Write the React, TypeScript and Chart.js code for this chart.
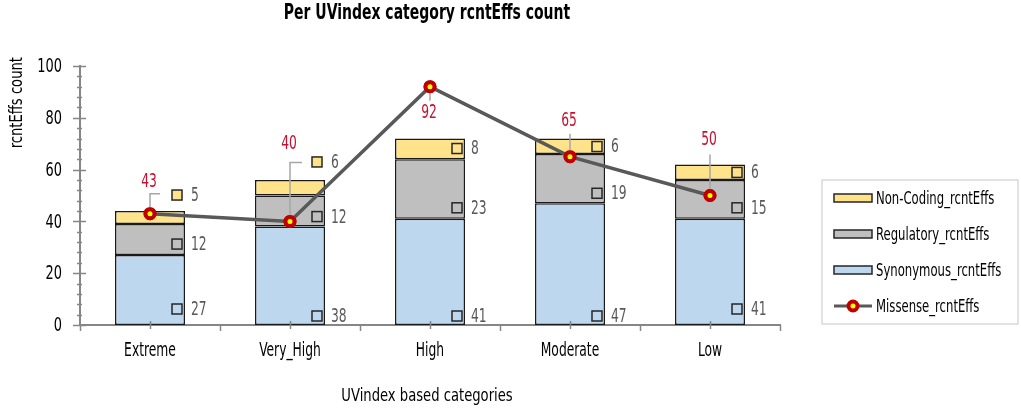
import { useEffect, useRef } from "react";
import { Chart, registerables } from "chart.js";

Chart.register(...registerables);

const categories = ["Extreme", "Very_High", "High", "Moderate", "Low"];
const synonymous = [27, 38, 41, 47, 41];
const regulatory = [12, 12, 23, 19, 15];
const nonCoding = [5, 6, 8, 6, 6];
const missense = [43, 40, 92, 65, 50];
const yTicks = [0, 20, 40, 60, 80, 100];

const FONT = "'DejaVu Sans Condensed', 'DejaVu Sans', sans-serif";
const AXIS_GRAY = "#868686";
const COLORS = {
  syn: "#BDD7EE",
  reg: "#BFBFBF",
  nc: "#FFE38A",
  line: "#595959",
};

// hand-placed label nudges (px), like the original Excel labels
const synDy = [-16, -9, -9, -9, -16]; // from segment base
const regDy = [-11, -10, -11, -10, -11]; // from segment base
const ncDy = [-16, -18, 10, 8, 8]; // from segment top
const missDy = [-32, -77, 26, -36, -55]; // label offset from point
const leaders = [
  [-20, 10],
  [-59, 12],
  [14, 0],
  [-23, 0],
  [-41, 0],
];

// no narrow font installed, so squeeze the text horizontally
type TextOpts = {
  size: number;
  color: string;
  align: CanvasTextAlign;
  sx: number;
  weight?: string;
  rotate?: boolean;
};
function condText(ctx: CanvasRenderingContext2D, text: string, x: number, y: number, o: TextOpts) {
  ctx.save();
  ctx.translate(x, y);
  if (o.rotate) ctx.rotate(-Math.PI / 2);
  ctx.scale(o.sx, 1);
  ctx.font = `${o.weight || "normal"} ${o.size}px ${FONT}`;
  ctx.fillStyle = o.color;
  ctx.textAlign = o.align;
  ctx.textBaseline = "middle";
  ctx.fillText(text, 0, 0);
  ctx.restore();
}

const decorations = {
  id: "decorations",
  afterDraw(chart: any) {
    const { ctx, chartArea } = chart;
    const x = chart.scales.x;
    const y = chart.scales.y;
    const axisY = chartArea.bottom;
    const axisX = chartArea.left;
    const midX = (chartArea.left + chartArea.right) / 2;
    ctx.save();

    // axis tick marks
    ctx.strokeStyle = AXIS_GRAY;
    ctx.lineWidth = 1.5;
    const step = yTicks[1] - yTicks[0];
    const minorStep = step / 5;
    for (let v = yTicks[0]; v <= yTicks[yTicks.length - 1]; v += minorStep) {
      const py = Math.round(y.getPixelForValue(v)) + 0.5;
      const major = v % step === 0;
      ctx.beginPath();
      ctx.moveTo(axisX - (major ? 7 : 3), py);
      ctx.lineTo(axisX + (major ? 6 : 2), py);
      ctx.stroke();
    }
    for (let i = 0; i <= categories.length; i++) {
      const px = Math.round(x.getPixelForValue(i - 0.5)) + 0.5;
      ctx.beginPath();
      ctx.moveTo(px, axisY);
      ctx.lineTo(px, axisY + 6);
      ctx.stroke();
    }
    for (let i = 0; i < categories.length; i++) {
      const px = Math.round(x.getPixelForValue(i)) + 0.5;
      ctx.beginPath();
      ctx.moveTo(px, axisY - 4);
      ctx.lineTo(px, axisY + 4);
      ctx.stroke();
    }

    // tick labels and titles
    yTicks.forEach((v) => {
      condText(ctx, String(v), axisX - 18, y.getPixelForValue(v) + 1, { size: 20, color: "#000", align: "right", sx: 0.72 });
    });
    categories.forEach((c, i) => {
      condText(ctx, c, x.getPixelForValue(i), axisY + 26, { size: 19, color: "#000", align: "center", sx: 0.72 });
    });
    condText(ctx, "Per UVindex category rcntEffs count", midX - 3, chartArea.top - 52, {
      size: 21,
      weight: "bold",
      color: "#000",
      align: "center",
      sx: 0.74,
    });
    condText(ctx, "UVindex based categories", midX - 3, axisY + 72, { size: 17, color: "#000", align: "center", sx: 0.86 });
    condText(ctx, "rcntEffs count", 18, chartArea.top - 9, { size: 17, color: "#000", align: "right", sx: 0.86, rotate: true });

    // bar segment labels (key square + value)
    const segs = [
      { ds: 0, color: COLORS.syn, values: synonymous, pos: (b: any, i: number) => b.base + synDy[i] },
      { ds: 1, color: COLORS.reg, values: regulatory, pos: (b: any, i: number) => b.base + regDy[i] },
      { ds: 2, color: COLORS.nc, values: nonCoding, pos: (b: any, i: number) => b.y + ncDy[i] },
    ];
    segs.forEach((s) => {
      const meta = chart.getDatasetMeta(s.ds);
      meta.data.forEach((bar: any, i: number) => {
        const right = bar.x + bar.width / 2;
        const cy = s.pos(bar, i);
        ctx.fillStyle = s.color;
        ctx.fillRect(right - 13, cy - 5, 10, 10);
        ctx.strokeStyle = "#262626";
        ctx.lineWidth = 1.5;
        ctx.strokeRect(right - 13, cy - 5, 10, 10);
        condText(ctx, String(s.values[i]), right + 6, cy + 1, { size: 19, color: "#595959", align: "left", sx: 0.72 });
      });
    });

    // missense labels with leader lines
    const lineMeta = chart.getDatasetMeta(3);
    lineMeta.data.forEach((pt: any, i: number) => {
      const [dv, dh] = leaders[i];
      ctx.strokeStyle = "#A6A6A6";
      ctx.lineWidth = 1.5;
      ctx.beginPath();
      ctx.moveTo(pt.x, pt.y);
      ctx.lineTo(pt.x, pt.y + dv);
      if (dh) ctx.lineTo(pt.x + dh, pt.y + dv);
      ctx.stroke();
      condText(ctx, String(missense[i]), pt.x - 1, pt.y + missDy[i], { size: 19, color: "#C8102E", align: "center", sx: 0.72 });
    });
    // redraw points over leaders
    lineMeta.data.forEach((pt: any) => pt.draw(ctx, chartArea));

    // legend
    const lx = chartArea.right + 42;
    const ly = 180;
    const lw = 196;
    const lh = 144;
    ctx.strokeStyle = "#D9D9D9";
    ctx.lineWidth = 1.5;
    ctx.strokeRect(lx, ly, lw, lh);
    const items = [
      { label: "Non-Coding_rcntEffs", color: COLORS.nc, kind: "box" },
      { label: "Regulatory_rcntEffs", color: COLORS.reg, kind: "box" },
      { label: "Synonymous_rcntEffs", color: COLORS.syn, kind: "box" },
      { label: "Missense_rcntEffs", color: COLORS.line, kind: "line" },
    ];
    items.forEach((it, k) => {
      const cy = ly + 18 + k * 36;
      const sx = lx + 12;
      if (it.kind === "box") {
        ctx.fillStyle = it.color;
        ctx.fillRect(sx, cy - 4, 38, 8);
        ctx.strokeStyle = "#262626";
        ctx.lineWidth = 1.5;
        ctx.strokeRect(sx, cy - 4, 38, 8);
      } else {
        ctx.strokeStyle = COLORS.line;
        ctx.lineWidth = 3;
        ctx.beginPath();
        ctx.moveTo(sx, cy);
        ctx.lineTo(sx + 38, cy);
        ctx.stroke();
        ctx.beginPath();
        ctx.arc(sx + 19, cy, 4.5, 0, Math.PI * 2);
        ctx.fillStyle = "#FFFF00";
        ctx.fill();
        ctx.strokeStyle = "#C00000";
        ctx.lineWidth = 4;
        ctx.stroke();
      }
      condText(ctx, it.label, sx + 42, cy + 1, { size: 18, color: "#000", align: "left", sx: 0.72 });
    });

    ctx.restore();
  },
};

const App = () => {
  const canvasRef = useRef<HTMLCanvasElement>(null);
  const chartRef = useRef<Chart | null>(null);

  useEffect(() => {
    document.body.style.margin = "0";
    if (!canvasRef.current) return;
    const ctx = canvasRef.current.getContext("2d");
    if (!ctx) return;
    if (chartRef.current) chartRef.current.destroy();

    const barCommon = {
      type: "bar" as const,
      stack: "effs",
      borderColor: "#1a1a1a",
      borderWidth: 1.5,
      borderSkipped: false,
      barPercentage: 0.5,
      categoryPercentage: 1,
      order: 1,
    };

    chartRef.current = new Chart(ctx, {
      type: "bar",
      data: {
        labels: categories,
        datasets: [
          { ...barCommon, label: "Synonymous_rcntEffs", data: synonymous, backgroundColor: COLORS.syn },
          { ...barCommon, label: "Regulatory_rcntEffs", data: regulatory, backgroundColor: COLORS.reg },
          { ...barCommon, label: "Non-Coding_rcntEffs", data: nonCoding, backgroundColor: COLORS.nc },
          {
            type: "line",
            label: "Missense_rcntEffs",
            data: missense,
            stack: "missense",
            borderColor: COLORS.line,
            borderWidth: 3.5,
            pointRadius: 4.5,
            pointBorderWidth: 4,
            pointBackgroundColor: "#FFFF00",
            pointBorderColor: "#C00000",
            tension: 0,
            order: 0,
          } as any,
        ],
      },
      options: {
        responsive: true,
        maintainAspectRatio: false,
        animation: false,
        layout: { padding: { top: 66, left: 0, right: 241, bottom: 0 } },
        plugins: {
          legend: { display: false },
          tooltip: { enabled: false },
        },
        scales: {
          x: {
            stacked: true,
            grid: { display: false, drawTicks: false },
            border: { color: AXIS_GRAY, width: 2 },
            ticks: { display: false },
            afterFit: (scale: any) => {
              scale.height = 86;
            },
          },
          y: {
            stacked: true,
            min: yTicks[0],
            max: yTicks[yTicks.length - 1],
            grid: { display: false, drawTicks: false },
            border: { color: AXIS_GRAY, width: 2 },
            ticks: { display: false, stepSize: yTicks[1] - yTicks[0] },
            afterFit: (scale: any) => {
              scale.width = 80;
            },
          },
        },
      },
      plugins: [decorations],
    });

    return () => {
      if (chartRef.current) {
        chartRef.current.destroy();
        chartRef.current = null;
      }
    };
  }, []);

  return (
    <div style={{ width: "1021px", height: "411px", position: "relative" }}>
      <canvas ref={canvasRef} />
    </div>
  );
};

export default App;
